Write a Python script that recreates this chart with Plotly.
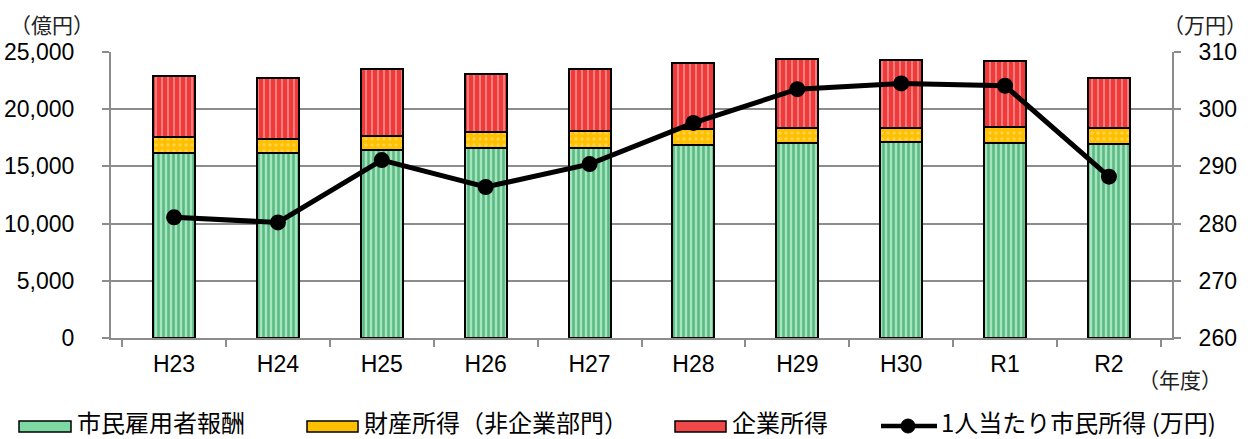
import plotly.graph_objects as go

# 年度
years = ["H23", "H24", "H25", "H26", "H27", "H28", "H29", "H30", "R1", "R2"]

# 市民所得の内訳(億円)
employee_comp = [16130, 16130, 16420, 16650, 16650, 16860, 17060, 17120, 17060, 16940]
property_income = [1400, 1250, 1220, 1370, 1430, 1450, 1340, 1250, 1390, 1400]
corporate_income = [5330, 5350, 5910, 5100, 5410, 5730, 6030, 5970, 5740, 4370]

# 1人当たり市民所得(万円)
per_capita = [281.1, 280.2, 291.1, 286.4, 290.4, 297.6, 303.5, 304.5, 304.1, 288.2]

series_names = ["市民雇用者報酬", "財産所得（非企業部門）", "企業所得", "1人当たり市民所得 (万円)"]

W, H = 1254, 439
ML, MR, MT, MB = 111, 82, 52, 101
PW, PH = W - ML - MR, H - MT - MB

FONT = "Liberation Sans, Arial, Noto Sans CJK JP, sans-serif"
JFONT = "Noto Sans CJK JP, sans-serif"
GRID = "#8c8c8c"


def px_x(x):
    return (x - ML) / PW


def px_y(y):
    return 1 - (y - MT) / PH


fig = go.Figure()

fig.add_trace(go.Bar(
    x=years, y=employee_comp, name=series_names[0],
    marker=dict(color="#a4e4be", line=dict(color="black", width=2),
                pattern=dict(shape="|", fgcolor="#0f8c44", bgcolor="#a4e4be",
                             size=5, solidity=0.5, fillmode="overlay")),
    showlegend=False,
))
fig.add_trace(go.Bar(
    x=years, y=property_income, name=series_names[1],
    marker=dict(color="#ffc000", line=dict(color="black", width=2),
                pattern=dict(shape=".", fgcolor="#ffe49a", bgcolor="#ffc000",
                             size=6, solidity=0.25, fillmode="overlay")),
    showlegend=False,
))
fig.add_trace(go.Bar(
    x=years, y=corporate_income, name=series_names[2],
    marker=dict(color="#f03a3a", line=dict(color="black", width=2),
                pattern=dict(shape="|", fgcolor="#ffdada", bgcolor="#f03a3a",
                             size=6, solidity=0.28, fillmode="overlay")),
    showlegend=False,
))
fig.add_trace(go.Scatter(
    x=years, y=per_capita, name=series_names[3], yaxis="y2",
    mode="lines+markers",
    line=dict(color="black", width=5),
    marker=dict(color="black", size=16),
    showlegend=False,
))

fig.update_layout(
    width=W, height=H,
    margin=dict(l=ML, r=MR, t=MT, b=MB, pad=0, autoexpand=False),
    paper_bgcolor="white", plot_bgcolor="white",
    barmode="stack", bargap=0.595,
    font=dict(family=FONT, size=23, color="black"),
    xaxis=dict(
        type="category", showline=True, linecolor=GRID, linewidth=2,
        ticks="outside", tickson="boundaries", ticklen=7, tickwidth=2,
        tickcolor=GRID, showgrid=False, ticklabelstandoff=4, automargin=False,
        tickfont=dict(family=FONT, size=23),
    ),
    yaxis=dict(
        range=[0, 25000], tickvals=[0, 5000, 10000, 15000, 20000, 25000],
        tickformat=",d", showgrid=True, gridcolor=GRID, gridwidth=2,
        showline=True, linecolor=GRID, linewidth=2, ticks="outside",
        ticklen=7, tickwidth=2, tickcolor=GRID, zeroline=False,
        ticklabelstandoff=23, automargin=False,
        tickfont=dict(family=FONT, size=23),
    ),
    yaxis2=dict(
        range=[260, 310], tickvals=[260, 270, 280, 290, 300, 310],
        overlaying="y", side="right", showgrid=False,
        showline=True, linecolor=GRID, linewidth=2, ticks="outside",
        ticklen=7, tickwidth=2, tickcolor=GRID, zeroline=False,
        ticklabelstandoff=13, automargin=False,
        tickfont=dict(family=FONT, size=23),
    ),
    showlegend=False,
)

# 軸の単位
unit_labels = [("（億円）", 52, 24), ("（万円）", 1205, 24), ("（年度）", 1180, 379)]
for text, x, y in unit_labels:
    fig.add_annotation(text=text, x=px_x(x), y=px_y(y), xref="paper", yref="paper",
                       showarrow=False, xanchor="center", yanchor="middle",
                       font=dict(family=JFONT, size=21, color="#222"))

# 凡例
LEG_Y0, LEG_Y1, LEG_YC = 421, 432, 421
swatches = [(19, 71, "#7ed8a4", series_names[0]),
            (307, 358, "#ffc000", series_names[1]),
            (675, 726, "#f04848", series_names[2])]
for x0, x1, color, name in swatches:
    fig.add_shape(type="rect", xref="paper", yref="paper",
                  x0=px_x(x0), x1=px_x(x1), y0=px_y(LEG_Y1), y1=px_y(LEG_Y0),
                  fillcolor=color, line=dict(color="black", width=1.5))
    fig.add_annotation(text=name, x=px_x(x1 + 5), y=px_y(LEG_YC),
                       xref="paper", yref="paper", showarrow=False,
                       xanchor="left", yanchor="middle", borderpad=0,
                       font=dict(family=JFONT, size=24, color="black"))

fig.add_shape(type="line", xref="paper", yref="paper",
              x0=px_x(881), x1=px_x(937), y0=px_y(426), y1=px_y(426),
              line=dict(color="black", width=4.5))
fig.add_shape(type="circle", xref="paper", yref="paper",
              x0=px_x(901), x1=px_x(915), y0=px_y(433), y1=px_y(419),
              fillcolor="black", line=dict(color="black", width=1))
fig.add_annotation(text=series_names[3], x=px_x(940), y=px_y(LEG_YC),
                   xref="paper", yref="paper", showarrow=False,
                   xanchor="left", yanchor="middle", borderpad=0,
                   font=dict(family=JFONT, size=24, color="black"))

fig.write_html("out.html")
